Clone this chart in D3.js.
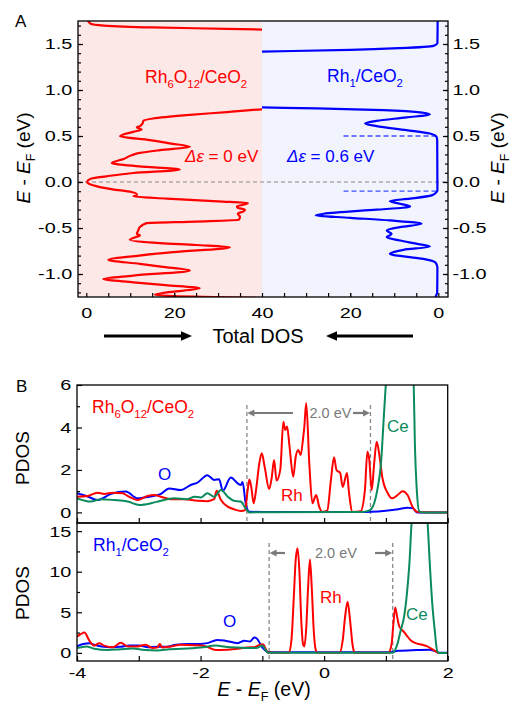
<!DOCTYPE html>
<html>
<head>
<meta charset="utf-8">
<script src="https://cdn.jsdelivr.net/npm/d3@7"></script>
<style>
body { margin: 0; background: #fff; }
svg text { font-family: Arial, "Liberation Sans", sans-serif; }
</style>
</head>
<body>
<div id="chart"></div>
<script>
// ---- data ----
// panel A: total DOS, [energy (eV), DOS]
var totRh6O12 = [
  [-1.27, 50], [-1.24, 19.8], [-1.225, 15.6], [-1.2, 18.3], [-1.156, 25.8], [-1.12, 18], [-1.09, 10.7],
  [-1.054, 3.9], [-1.017, 10.7], [-0.963, 23.6], [-0.92, 17], [-0.89, 12.2], [-0.846, 5.0], [-0.8, 12],
  [-0.763, 19.8], [-0.709, 32.7], [-0.685, 25], [-0.665, 16.8], [-0.628, 9.9], [-0.6, 11.2], [-0.581, 12.2],
  [-0.563, 11.5], [-0.53, 11.8], [-0.49, 12.2], [-0.447, 13.7], [-0.43, 25], [-0.41, 34.7], [-0.38, 35.0],
  [-0.345, 34.5], [-0.32, 35.8], [-0.301, 36.1], [-0.28, 34.5], [-0.265, 34.3], [-0.245, 36], [-0.229, 36.8],
  [-0.21, 30], [-0.181, 18.3], [-0.156, 10.7], [-0.145, 11.5], [-0.134, 11.5], [-0.109, 10.3], [-0.08, 6],
  [-0.055, 3.1], [-0.02, 0.6], [0.0, 0.2], [0.037, 1.2], [0.062, 4.6], [0.098, 10.7], [0.135, 21.3],
  [0.17, 12], [0.207, 5.8], [0.25, 8.5], [0.291, 10.3], [0.316, 12.2], [0.346, 16.8], [0.382, 23.6],
  [0.42, 19], [0.455, 14.5], [0.498, 7.7], [0.545, 10.7], [0.571, 12.6], [0.593, 11.5], [0.607, 12.2],
  [0.637, 12.8], [0.665, 13.0], [0.69, 15.2], [0.727, 22.8], [0.76, 32], [0.79, 40], [0.82, 55],
  [1.2, 70], [1.64, 55], [1.655, 42], [1.665, 32], [1.68, 15], [1.70, 4], [1.72, 1], [1.76, 0.3]
];
var totRh1 = [
  [-1.27, 0.7], [-1.235, 0.5], [-1.2, 0.25], [-0.927, 0.2], [-0.872, 0.7], [-0.835, 3.4], [-0.781, 11],
  [-0.76, 10], [-0.737, 7.9], [-0.701, 1.9], [-0.67, 5], [-0.636, 8.7], [-0.6, 11.7], [-0.58, 11],
  [-0.563, 10.6], [-0.527, 11.7], [-0.49, 8.7], [-0.454, 3.8], [-0.418, 11], [-0.389, 20], [-0.363, 27.8],
  [-0.345, 26], [-0.301, 14], [-0.28, 8], [-0.265, 6.4], [-0.236, 8.7], [-0.207, 11], [-0.181, 6.4],
  [-0.145, 1.5], [-0.11, 0.4], [-0.09, 0.2], [0.45, 0.25], [0.49, 0.4], [0.527, 1.9], [0.564, 7.2],
  [0.607, 14], [0.637, 16.6], [0.665, 14.0], [0.702, 7.2], [0.735, 1.9], [0.753, 3.4], [0.782, 12.5],
  [0.8, 27.6], [0.811, 40], [0.83, 60], [1.4, 60], [1.418, 40], [1.436, 20], [1.455, 8.7], [1.48, 1.1],
  [1.51, 0.2], [1.76, 0.15]
];
var rh1Levels = [0.5, -0.1];   // dashed levels, 0.6 eV apart

// panel B top (Rh6O12/CeO2): PDOS, [energy, value]
var pdosRh6_O = [
  [-4.0, 0.9], [-3.83, 0.75], [-3.67, 0.58], [-3.45, 0.87], [-3.21, 0.98], [-3.02, 0.66], [-2.83, 0.74],
  [-2.64, 0.87], [-2.51, 1.13], [-2.32, 1.05], [-2.16, 1.29], [-2.05, 1.40], [-1.89, 1.75], [-1.78, 1.53],
  [-1.70, 1.56], [-1.64, 1.02], [-1.51, 1.64], [-1.40, 1.37], [-1.35, 1.29], [-1.32, 1.43], [-1.27, 0.43],
  [-1.21, 0.03], [-1.0, 0.02], [0.6, 0.02], [0.76, 0.03], [1.0, 0.08], [1.2, 0.15], [1.35, 0.22],
  [1.43, 0.2], [1.51, 0.0], [2.0, 0.0]
];
var pdosRh6_Rh = [
  [-4.0, 0.74], [-3.83, 0.77], [-3.67, 0.93], [-3.56, 0.87], [-3.42, 0.93], [-3.26, 0.90], [-3.16, 0.74],
  [-3.02, 0.58], [-2.86, 0.77], [-2.75, 0.82], [-2.64, 0.74], [-2.48, 0.62], [-2.27, 0.62], [-2.05, 0.55],
  [-1.89, 0.53], [-1.78, 0.62], [-1.74, 1.02], [-1.67, 0.58], [-1.56, 0.27], [-1.46, 0.15], [-1.35, 0.07],
  [-1.28, 0.1], [-1.24, 1.0], [-1.21, 1.55], [-1.18, 1.2], [-1.14, 0.43], [-1.10, 1.1], [-1.05, 2.3],
  [-1.01, 2.78], [-0.96, 2.1], [-0.89, 1.1], [-0.85, 1.6], [-0.81, 2.47], [-0.77, 1.5], [-0.71, 2.0],
  [-0.66, 4.27], [-0.63, 3.88], [-0.60, 4.04], [-0.56, 3.1], [-0.50, 1.68], [-0.46, 2.62], [-0.42, 2.94],
  [-0.38, 2.7], [-0.34, 3.5], [-0.32, 4.04], [-0.29, 5.15], [-0.24, 2.3], [-0.19, 0.43], [-0.13, 0.82],
  [-0.08, 0.27], [-0.03, 0.02], [0.05, 0.08], [0.11, 1.53], [0.16, 2.6], [0.2, 2.0], [0.26, 1.85],
  [0.3, 1.2], [0.37, 1.85], [0.40, 1.0], [0.46, 0.02], [0.59, 0.05], [0.66, 1.05], [0.70, 2.86],
  [0.73, 2.5], [0.77, 1.05], [0.81, 2.31], [0.85, 3.33], [0.89, 2.78], [0.94, 1.68], [1.03, 0.9],
  [1.1, 0.66], [1.19, 0.82], [1.27, 1.0], [1.35, 0.82], [1.43, 0.27], [1.51, 0.02], [2.0, 0.0]
];
var pdosRh6_Ce = [
  [-4.0, 0.66], [-3.78, 0.51], [-3.61, 0.62], [-3.40, 0.58], [-3.18, 0.51], [-2.99, 0.35], [-2.80, 0.43],
  [-2.64, 0.55], [-2.43, 0.66], [-2.21, 0.62], [-2.10, 0.74], [-2.0, 0.70], [-1.89, 0.90], [-1.78, 0.74],
  [-1.67, 1.05], [-1.56, 0.74], [-1.46, 0.55], [-1.35, 0.51], [-1.27, 0.19], [-1.21, 0.0], [0.6, 0.02],
  [0.7, 0.06], [0.76, 0.15], [0.81, 0.43], [0.86, 1.05], [0.92, 2.3], [0.97, 4.7], [1.0, 6.1], [1.05, 9],
  [1.2, 13], [1.35, 12], [1.42, 8], [1.45, 6.0], [1.47, 3.1], [1.5, 1.05], [1.54, 0.05], [1.6, 0.0], [2.0, 0.0]
];
var gapRh6 = [-1.25, 0.75];

// panel B bottom (Rh1/CeO2)
var pdosRh1_O = [
  [-4.0, 0.8], [-3.9, 1.1], [-3.8, 1.2], [-3.72, 1.0], [-3.6, 0.8], [-3.45, 0.7], [-3.3, 0.75], [-3.15, 0.9],
  [-3.0, 0.9], [-2.85, 0.7], [-2.7, 0.75], [-2.55, 0.75], [-2.4, 1.0], [-2.2, 1.1], [-2.0, 1.1], [-1.89, 1.2],
  [-1.73, 1.6], [-1.6, 1.5], [-1.4, 1.2], [-1.29, 1.5], [-1.2, 1.4], [-1.13, 1.9], [-1.08, 1.7], [-1.02, 0.9],
  [-0.95, 0.3], [-0.91, 0.08], [1.05, 0.08], [1.2, 0.25], [1.5, 0.35], [1.7, 0.4], [1.8, 0.2], [1.86, 0.02],
  [2.0, 0.02]
];
var pdosRh1_Rh = [
  [-4.0, 2.0], [-3.94, 2.3], [-3.88, 2.5], [-3.80, 1.5], [-3.72, 0.9], [-3.64, 1.2], [-3.56, 0.9], [-3.42, 0.7],
  [-3.29, 1.25], [-3.18, 0.8], [-3.02, 0.8], [-2.89, 1.0], [-2.78, 0.6], [-2.70, 0.65], [-2.66, 1.1],
  [-2.62, 0.65], [-2.48, 0.8], [-2.32, 1.0], [-2.10, 0.95], [-1.94, 0.85], [-1.75, 0.35], [-1.56, 0.4],
  [-1.40, 0.5], [-1.19, 0.7], [-1.13, 0.7], [-1.04, 1.0], [-0.99, 1.05], [-0.94, 0.4], [-0.91, 0.05],
  [-0.6, 0.02], [-0.57, 0.05], [-0.53, 1.5], [-0.49, 7], [-0.46, 11.5], [-0.43, 12.9], [-0.40, 10],
  [-0.37, 4], [-0.34, 1.0], [-0.32, 0.8], [-0.29, 3], [-0.26, 8], [-0.23, 11.5], [-0.20, 8], [-0.17, 3],
  [-0.14, 0.5], [-0.11, 0.02], [0.25, 0.02], [0.3, 1.5], [0.34, 4.5], [0.38, 6.3], [0.42, 4], [0.46, 1],
  [0.49, 0.02], [1.04, 0.02], [1.09, 1], [1.12, 3.5], [1.15, 5.6], [1.18, 4.5], [1.21, 3.4], [1.25, 2.9],
  [1.29, 2.6], [1.35, 2.0], [1.40, 1.55], [1.48, 1.2], [1.59, 1.0], [1.67, 0.8], [1.78, 0.3], [1.86, 0.0],
  [2.0, 0.0]
];
var pdosRh1_Ce = [
  [-4.0, 0.6], [-3.85, 0.8], [-3.72, 0.5], [-3.5, 0.35], [-3.3, 0.45], [-3.1, 0.55], [-2.9, 0.35], [-2.7, 0.3],
  [-2.5, 0.45], [-2.3, 0.5], [-2.0, 0.65], [-1.75, 0.9], [-1.6, 0.75], [-1.4, 0.65], [-1.2, 0.6], [-1.1, 0.6],
  [-1.0, 0.9], [-0.95, 0.4], [-0.91, 0.02], [1.11, 0.02], [1.19, 1.2], [1.24, 2.8], [1.29, 4.3], [1.34, 7.3],
  [1.38, 11], [1.42, 16.5], [1.55, 22], [1.67, 16.5], [1.71, 11], [1.75, 6.1], [1.79, 2.8], [1.83, 0.2],
  [1.86, 0.0], [2.0, 0.0]
];
var gapRh1 = [-0.89, 1.11];

// tick values
var ticksAy = [-1, -0.5, 0, 0.5, 1, 1.5];
var ticksAxLeft = [0, 20, 40];
var ticksAxRight = [0, 20];
var ticksB1y = [0, 2, 4, 6];
var ticksB2y = [0, 5, 10, 15];
var ticksBx = [-4, -2, 0, 2];

// ---- colours ----
var RED = "#ff0000", BLUE = "#0000ff", GREEN = "#0b8a5c", GRAY = "#7a7a7a";

var svgWidth = 513, svgHeight = 707;
var svg = d3.select("#chart").append("svg")
  .attr("width", svgWidth)
  .attr("height", svgHeight);

// text with italic / subscript pieces
function richText(g, x, y, parts, fs, color, anchor, transform) {
  var t = g.append("text")
    .attr("x", x).attr("y", y)
    .attr("font-size", fs)
    .attr("fill", color)
    .attr("text-anchor", anchor || "start");
  if (transform) t.attr("transform", transform);
  var shift = 0;
  parts.forEach(function(p) {
    var s = t.append("tspan").text(p[0]);
    var target = p[1] === "sub" ? fs * 0.28 : 0;
    if (target !== shift) { s.attr("dy", target - shift); shift = target; }
    if (p[1] === "sub") s.attr("font-size", fs * 0.65);
    if (p[1] === "i") s.attr("font-style", "italic");
  });
  return t;
}

function styleAxis(g, fs) {
  g.select(".domain").remove();
  g.attr("font-family", null);
  g.selectAll("line").attr("stroke", "#000").attr("stroke-width", 1.2);
  g.selectAll("text").attr("font-size", fs).attr("fill", "#000").attr("transform", "scale(1.28,1)");
}

function minorAxis(axis, vals, size) {
  return axis.tickValues(vals).tickSize(-size).tickFormat("");
}

function arrowHead(g, x, y, dir, len, half, color) {
  g.append("path")
    .attr("d", "M" + x + "," + y + "L" + (x - dir * len) + "," + (y - half) + "L" + (x - dir * len) + "," + (y + half) + "Z")
    .attr("fill", color);
}

var fmt1 = function(d) { return d.toFixed(1); };
var fmt0 = function(d) { return String(d); };

// ================= panel A =================
var A = {left: 78, right: 448, top: 21, bottom: 297, mid: 262};
var yA = d3.scaleLinear().domain([-1.25, 1.75]).range([A.bottom, A.top]);
var xL = d3.scaleLinear().domain([0, 40]).range([86.3, A.mid]);
var xR = d3.scaleLinear().domain([0, 40]).range([438.3, A.mid]);

var defs = svg.append("defs");
defs.append("clipPath").attr("id", "clipL").append("rect")
  .attr("x", A.left).attr("y", A.top).attr("width", A.mid - A.left).attr("height", A.bottom - A.top);
defs.append("clipPath").attr("id", "clipR").append("rect")
  .attr("x", A.mid).attr("y", A.top).attr("width", A.right - A.mid).attr("height", A.bottom - A.top);

svg.append("rect").attr("x", A.left).attr("y", A.top).attr("width", A.mid - A.left).attr("height", A.bottom - A.top)
  .attr("fill", "#fde8e8");
svg.append("rect").attr("x", A.mid).attr("y", A.top).attr("width", A.right - A.mid).attr("height", A.bottom - A.top)
  .attr("fill", "#f1f4fd");

// Fermi level
svg.append("line")
  .attr("x1", A.left).attr("x2", A.right).attr("y1", yA(0)).attr("y2", yA(0))
  .attr("stroke", "#888").attr("stroke-width", 1).attr("stroke-dasharray", "4,3");

// Rh1 levels
svg.selectAll(".lvl").data(rh1Levels).enter().append("line")
  .attr("x1", xR(21.5)).attr("x2", xR(0.3))
  .attr("y1", d => yA(d)).attr("y2", d => yA(d))
  .attr("stroke", "#3c4cff").attr("stroke-width", 1.3).attr("stroke-dasharray", "5,3");

var lineL = d3.line().x(d => xL(d[1])).y(d => yA(d[0])).curve(d3.curveMonotoneY);
var lineR = d3.line().x(d => xR(d[1])).y(d => yA(d[0])).curve(d3.curveMonotoneY);

svg.append("path").datum(totRh6O12).attr("d", lineL).attr("clip-path", "url(#clipL)")
  .attr("fill", "none").attr("stroke", RED).attr("stroke-width", 2.2);
svg.append("path").datum(totRh1).attr("d", lineR).attr("clip-path", "url(#clipR)")
  .attr("fill", "none").attr("stroke", BLUE).attr("stroke-width", 2.2);

// axes panel A
var gAl = svg.append("g").attr("transform", `translate(${A.left},0)`)
  .call(d3.axisLeft(yA).tickValues(ticksAy).tickSize(-5).tickPadding(4.5).tickFormat(fmt1));
styleAxis(gAl, 15.5);
var gAlm = svg.append("g").attr("transform", `translate(${A.left},0)`)
  .call(minorAxis(d3.axisLeft(yA), d3.range(-12, 18).map(i => i / 10), 3));
styleAxis(gAlm, 15.5);
var gAr = svg.append("g").attr("transform", `translate(${A.right},0)`)
  .call(d3.axisRight(yA).tickValues(ticksAy).tickSize(-5).tickPadding(3.5).tickFormat(fmt1));
styleAxis(gAr, 15.5);
var gArm = svg.append("g").attr("transform", `translate(${A.right},0)`)
  .call(minorAxis(d3.axisRight(yA), d3.range(-12, 18).map(i => i / 10), 3));
styleAxis(gArm, 15.5);

var gAb1 = svg.append("g").attr("transform", `translate(0,${A.bottom})`)
  .call(d3.axisBottom(xL).tickValues(ticksAxLeft).tickSize(-4).tickPadding(10).tickFormat(fmt0));
styleAxis(gAb1, 15.5);
var gAb2 = svg.append("g").attr("transform", `translate(0,${A.bottom})`)
  .call(d3.axisBottom(xR).tickValues(ticksAxRight).tickSize(-4).tickPadding(10).tickFormat(fmt0));
styleAxis(gAb2, 15.5);
var gAb3 = svg.append("g").attr("transform", `translate(0,${A.bottom})`)
  .call(minorAxis(d3.axisBottom(xL), d3.range(5, 40, 5), 4));
styleAxis(gAb3, 15.5);
var gAb4 = svg.append("g").attr("transform", `translate(0,${A.bottom})`)
  .call(minorAxis(d3.axisBottom(xR), d3.range(5, 40, 5), 4));
styleAxis(gAb4, 15.5);

svg.append("rect").attr("x", A.left).attr("y", A.top).attr("width", A.right - A.left).attr("height", A.bottom - A.top)
  .attr("fill", "none").attr("stroke", "#000").attr("stroke-width", 1.3);

// labels panel A
svg.append("text").attr("x", 15).attr("y", 27).attr("font-size", 17).text("A");
richText(svg, 145, 83, [["Rh"], ["6", "sub"], ["O"], ["12", "sub"], ["/CeO"], ["2", "sub"]], 17.5, RED);
richText(svg, 327, 82, [["Rh"], ["1", "sub"], ["/CeO"], ["2", "sub"]], 17.5, BLUE);
richText(svg, 185, 162, [["\u0394\u03b5", "i"], [" = 0 eV"]], 17, RED);
richText(svg, 287, 162, [["\u0394\u03b5", "i"], [" = 0.6 eV"]], 17, BLUE);
svg.append("text").attr("x", 258).attr("y", 343).attr("font-size", 20).attr("text-anchor", "middle").text("Total DOS");

var eLabel = [["E", "i"], [" - "], ["E", "i"], ["F", "sub"], [" (eV)"]];
richText(svg, 0, 19 * 0.35, eLabel, 19, "#000", "middle", "translate(23,158) rotate(-90)");
richText(svg, 0, 19 * 0.35, eLabel, 19, "#000", "middle", "translate(497,158) rotate(-90)");

// Total DOS arrows
var arrY = 336;
svg.append("line").attr("x1", 104).attr("x2", 183).attr("y1", arrY).attr("y2", arrY)
  .attr("stroke", "#000").attr("stroke-width", 3.2);
arrowHead(svg, 192, arrY, 1, 11, 4.8, "#000");
svg.append("line").attr("x1", 335).attr("x2", 413).attr("y1", arrY).attr("y2", arrY)
  .attr("stroke", "#000").attr("stroke-width", 3.2);
arrowHead(svg, 326, arrY, -1, 11, 4.8, "#000");

// ================= panel B =================
var B = {left: 77, right: 447.7, top: 385, mid: 523, bottom: 661};
var xB = d3.scaleLinear().domain([-4, 2]).range([B.left, B.right]);
var yB1 = d3.scaleLinear().domain([-0.5, 6]).range([B.mid, B.top]);
var yB2 = d3.scaleLinear().domain([-1, 16]).range([B.bottom, B.mid]);

defs.append("clipPath").attr("id", "clipB1").append("rect")
  .attr("x", B.left).attr("y", B.top).attr("width", B.right - B.left).attr("height", B.mid - B.top);
defs.append("clipPath").attr("id", "clipB2").append("rect")
  .attr("x", B.left).attr("y", B.mid).attr("width", B.right - B.left).attr("height", B.bottom - B.mid);

function drawPanel(yS, clip, series, gap, gapTop, arrowY, arrowEnds, textX) {
  var g = svg.append("g");
  // gap markers
  g.selectAll(".gap").data(gap).enter().append("line")
    .attr("x1", d => xB(d)).attr("x2", d => xB(d))
    .attr("y1", gapTop).attr("y2", yS.range()[0])
    .attr("stroke", "#888").attr("stroke-width", 1.3).attr("stroke-dasharray", "4,3");
  var line = d3.line().x(d => xB(d[0])).y(d => yS(d[1])).curve(d3.curveMonotoneX);
  series.forEach(function(s) {
    g.append("path").datum(s[0]).attr("d", line).attr("clip-path", clip)
      .attr("fill", "none").attr("stroke", s[1]).attr("stroke-width", 2);
  });
  // 2.0 eV arrows
  var x0 = xB(gap[0]), x1 = xB(gap[1]);
  g.append("line").attr("x1", x0 + 5).attr("x2", arrowEnds[0]).attr("y1", arrowY).attr("y2", arrowY)
    .attr("stroke", GRAY).attr("stroke-width", 2.2);
  arrowHead(g, x0 + 0.5, arrowY, -1, 7, 3.6, GRAY);
  g.append("line").attr("x1", arrowEnds[1]).attr("x2", x1 - 5).attr("y1", arrowY).attr("y2", arrowY)
    .attr("stroke", GRAY).attr("stroke-width", 2.2);
  arrowHead(g, x1 - 0.5, arrowY, 1, 7, 3.6, GRAY);
  g.append("text").attr("x", textX).attr("y", arrowY + 5)
    .attr("text-anchor", "middle").attr("font-size", 14.5).attr("fill", GRAY).text("2.0 eV");
}

drawPanel(yB1, "url(#clipB1)",
  [[pdosRh6_O, BLUE], [pdosRh6_Rh, RED], [pdosRh6_Ce, GREEN]],
  gapRh6, 405, 413, [293, 353], 330.5);
drawPanel(yB2, "url(#clipB2)",
  [[pdosRh1_O, BLUE], [pdosRh1_Rh, RED], [pdosRh1_Ce, GREEN]],
  gapRh1, 543, 553, [285, 375], 336);

// axes panel B
var gB1 = svg.append("g").attr("transform", `translate(${B.left},0)`)
  .call(d3.axisLeft(yB1).tickValues(ticksB1y).tickSize(-5).tickPadding(4.5).tickFormat(fmt0));
styleAxis(gB1, 15.5);
var gB1m = svg.append("g").attr("transform", `translate(${B.left},0)`)
  .call(minorAxis(d3.axisLeft(yB1), [1, 3, 5], 3));
styleAxis(gB1m, 15.5);
var gB2 = svg.append("g").attr("transform", `translate(${B.left},0)`)
  .call(d3.axisLeft(yB2).tickValues(ticksB2y).tickSize(-5).tickPadding(4.5).tickFormat(fmt0));
styleAxis(gB2, 15.5);
var gB2m = svg.append("g").attr("transform", `translate(${B.left},0)`)
  .call(minorAxis(d3.axisLeft(yB2), [2.5, 7.5, 12.5], 3));
styleAxis(gB2m, 15.5);

var gBx1 = svg.append("g").attr("transform", `translate(0,${B.mid})`)
  .call(minorAxis(d3.axisBottom(xB), d3.range(-4, 3), 5));
styleAxis(gBx1, 15.5);
var gBx2 = svg.append("g").attr("transform", `translate(0,${B.bottom})`)
  .call(d3.axisBottom(xB).tickValues(ticksBx).tickSize(-5).tickPadding(6).tickFormat(fmt0));
styleAxis(gBx2, 15.5);
var gBx2m = svg.append("g").attr("transform", `translate(0,${B.bottom})`)
  .call(minorAxis(d3.axisBottom(xB), [-3, -1, 1], 5));
styleAxis(gBx2m, 15.5);

svg.append("rect").attr("x", B.left).attr("y", B.top).attr("width", B.right - B.left).attr("height", B.mid - B.top)
  .attr("fill", "none").attr("stroke", "#000").attr("stroke-width", 1.3);
svg.append("rect").attr("x", B.left).attr("y", B.mid).attr("width", B.right - B.left).attr("height", B.bottom - B.mid)
  .attr("fill", "none").attr("stroke", "#000").attr("stroke-width", 1.3);

// labels panel B
svg.append("text").attr("x", 16).attr("y", 392).attr("font-size", 17).text("B");
richText(svg, 92, 413, [["Rh"], ["6", "sub"], ["O"], ["12", "sub"], ["/CeO"], ["2", "sub"]], 17.5, RED);
svg.append("text").attr("x", 158).attr("y", 480).attr("font-size", 17).attr("fill", BLUE).text("O");
svg.append("text").attr("x", 281).attr("y", 501).attr("font-size", 17).attr("fill", RED).text("Rh");
svg.append("text").attr("x", 387).attr("y", 432).attr("font-size", 17).attr("fill", GREEN).text("Ce");

richText(svg, 93, 551, [["Rh"], ["1", "sub"], ["/CeO"], ["2", "sub"]], 17.5, BLUE);
svg.append("text").attr("x", 223).attr("y", 627).attr("font-size", 17).attr("fill", BLUE).text("O");
svg.append("text").attr("x", 320).attr("y", 603).attr("font-size", 17).attr("fill", RED).text("Rh");
svg.append("text").attr("x", 406).attr("y", 620).attr("font-size", 17).attr("fill", GREEN).text("Ce");

svg.append("text").attr("x", 0).attr("y", 19 * 0.35).attr("font-size", 19).attr("text-anchor", "middle")
  .attr("transform", "translate(22,458) rotate(-90)").text("PDOS");
svg.append("text").attr("x", 0).attr("y", 19 * 0.35).attr("font-size", 19).attr("text-anchor", "middle")
  .attr("transform", "translate(22,593) rotate(-90)").text("PDOS");

richText(svg, 264, 696, eLabel, 19.5, "#000", "middle");
</script>
</body>
</html>
